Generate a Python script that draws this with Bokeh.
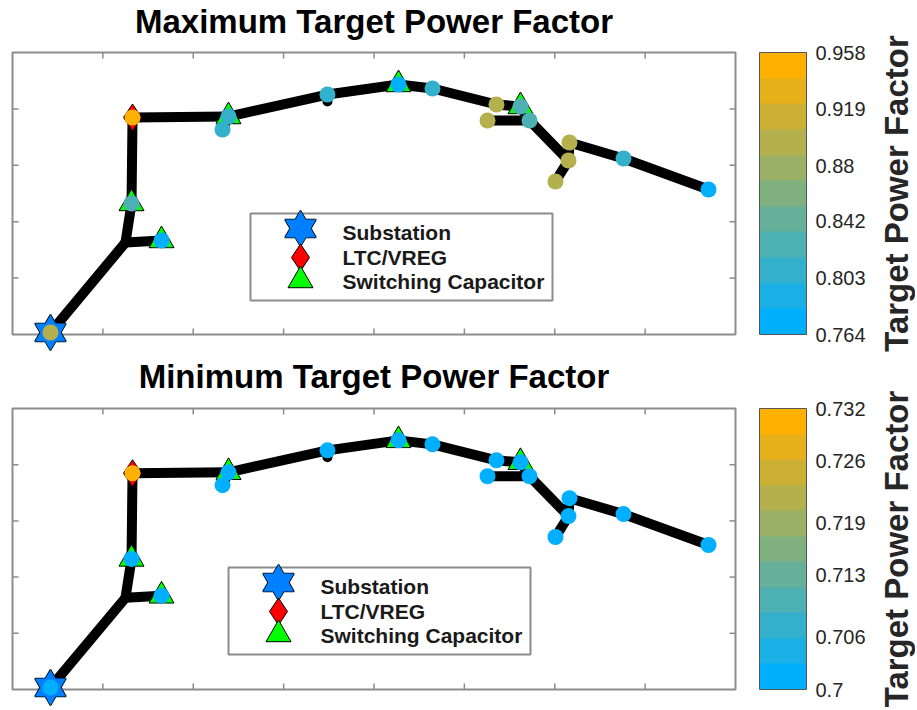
import math
from bokeh.plotting import figure
from bokeh.models import (ColumnDataSource, LinearColorMapper, ColorBar, FixedTicker,
                          Label, Range1d)
from bokeh.layouts import column
from bokeh.embed import file_html
from bokeh.resources import INLINE
from bokeh.core.properties import value

# ---------------- data ----------------
# feeder bus layout (axis units: x 0..8, y 0..5)
node_x = [0.420, 1.250, 1.649, 1.317, 1.328, 2.390, 2.324, 3.485, 3.485, 4.271,
          4.647, 5.355, 5.621, 5.721, 5.256, 6.152, 6.163, 6.008, 6.761, 7.701]
node_y = [0.035, 1.631, 1.667, 2.323, 3.848, 3.865, 3.635, 4.255, 4.131, 4.433,
          4.362, 4.078, 4.043, 3.794, 3.794, 3.085, 3.404, 2.713, 3.121, 2.571]
edge_from = [0, 1, 1, 3, 4, 5, 5, 7, 7, 9, 10, 11, 12, 13, 13, 15, 16, 18, 15]
edge_to   = [1, 2, 3, 4, 5, 6, 7, 8, 9, 10, 11, 12, 13, 14, 15, 16, 18, 19, 17]

substation_nodes = [0]
ltc_nodes = [4]
capacitor_nodes = [2, 3, 5, 9, 12]
pf_nodes = [0, 2, 3, 4, 5, 6, 7, 9, 10, 11, 12, 13, 14, 15, 16, 17, 18, 19]

pf_max = [0.890, 0.766, 0.826, 0.958, 0.805, 0.805, 0.805, 0.770, 0.805, 0.890,
          0.826, 0.826, 0.890, 0.890, 0.890, 0.890, 0.805, 0.766]
pf_min = [0.700, 0.700, 0.700, 0.732, 0.700, 0.700, 0.700, 0.700, 0.700, 0.700,
          0.700, 0.700, 0.700, 0.700, 0.700, 0.700, 0.700, 0.700]

cbar_max_ticks = [0.764, 0.803, 0.842, 0.880, 0.919, 0.958]
cbar_max_labels = ["0.764", "0.803", "0.842", "0.88", "0.919", "0.958"]
cbar_min_ticks = [0.700, 0.706, 0.713, 0.719, 0.726, 0.732]
cbar_min_labels = ["0.7", "0.706", "0.713", "0.719", "0.726", "0.732"]

titles = ["Maximum Target Power Factor", "Minimum Target Power Factor"]
legend_labels = ["Substation", "LTC/VREG", "Switching Capacitor"]
cbar_title = "Target Power Factor"

palette = ["#00b0ff", "#1ab0e6", "#33b0cc", "#4db0b3", "#66b099", "#80b080",
           "#99b066", "#b3b04d", "#ccb033", "#e6b01a", "#ffb000"]

# ---------------- layout (canvas pixels) ----------------
FIG_W = 915
BOX_L, BOX_R = 12, 735
CB_LEFT, CB_W = 759, 47
CB_TITLE_CX = 896
LEG_W, LEG_H = 302, 87
LEG_MARK_DX, LEG_MARK_DY = 50, [15, 44, 67]
LEG_TEXT_DX, LEG_TEXT_DY = 92, [19, 44, 68]
FONT = "Liberation Sans"

PANELS = [
    dict(fig_h=356, box_top=52, box_bot=334, leg=(250, 213), title_cy=21,
         pf=pf_max, ticks=cbar_max_ticks, labels=cbar_max_labels, title=titles[0]),
    dict(fig_h=352, box_top=52, box_bot=333, leg=(228, 211), title_cy=20,
         pf=pf_min, ticks=cbar_min_ticks, labels=cbar_min_labels, title=titles[1]),
]

SUB_COLOR, LTC_COLOR, CAP_COLOR = "#0080ff", "#ff0000", "#00ff00"
STAR_SIZE, DIAMOND_SIZE, TRI_SIZE, DOT_SIZE = 31, 27, 25, 16


def draw_star(p, xs, ys):
    for m in ("triangle", "inverted_triangle"):
        p.scatter(xs, ys, marker=m, size=STAR_SIZE, fill_color=SUB_COLOR,
                  line_color="black", line_width=1.6)
    for m in ("triangle", "inverted_triangle"):
        p.scatter(xs, ys, marker=m, size=STAR_SIZE, fill_color=SUB_COLOR,
                  line_color=None)


def make_panel(cfg):
    fig_h, bt, bb = cfg["fig_h"], cfg["box_top"], cfg["box_bot"]
    sx = (BOX_R - BOX_L) / 8.0
    sy = (bb - bt) / 5.0
    px2x = lambda px: (px - BOX_L) / sx
    px2y = lambda py: 5.0 - (py - bt) / sy

    p = figure(width=FIG_W, height=fig_h, title=None,
               x_range=Range1d(px2x(0), px2x(FIG_W)),
               y_range=Range1d(px2y(fig_h), px2y(0)),
               output_backend="svg", toolbar_location=None, min_border=0,
               x_axis_location=None, y_axis_location=None,
               outline_line_color=None)
    p.grid.grid_line_color = None

    # axes box with inward ticks
    p.quad(left=[0], right=[8], bottom=[0], top=[5], fill_color=None,
           line_color="#8c8c8c", line_width=2)
    tl_y, tl_x = 6 / sy, 6 / sx
    xt = [1, 2, 3, 4, 5, 6, 7]
    yt = [1, 2, 3, 4]
    p.segment(x0=xt + xt, y0=[0] * 7 + [5] * 7, x1=xt + xt,
              y1=[tl_y] * 7 + [5 - tl_y] * 7, line_color="#8c8c8c", line_width=1.5)
    p.segment(x0=[0] * 4 + [8] * 4, y0=yt + yt, x1=[tl_x] * 4 + [8 - tl_x] * 4,
              y1=yt + yt, line_color="#8c8c8c", line_width=1.5)

    # feeder lines
    p.segment(x0=[node_x[i] for i in edge_from], y0=[node_y[i] for i in edge_from],
              x1=[node_x[i] for i in edge_to], y1=[node_y[i] for i in edge_to],
              line_color="black", line_width=10, line_cap="round")

    # device markers
    p.scatter([node_x[i] for i in capacitor_nodes], [node_y[i] for i in capacitor_nodes],
              marker="triangle", size=TRI_SIZE, fill_color=CAP_COLOR,
              line_color="black", line_width=1)
    p.scatter([node_x[i] for i in ltc_nodes], [node_y[i] for i in ltc_nodes],
              marker="diamond", size=DIAMOND_SIZE, fill_color=LTC_COLOR,
              line_color="black", line_width=1)
    draw_star(p, [node_x[i] for i in substation_nodes], [node_y[i] for i in substation_nodes])

    # power-factor dots
    mapper = LinearColorMapper(palette=palette, low=cfg["ticks"][0], high=cfg["ticks"][-1])
    src = ColumnDataSource(dict(x=[node_x[i] for i in pf_nodes],
                                y=[node_y[i] for i in pf_nodes], pf=cfg["pf"]))
    p.scatter("x", "y", source=src, marker="circle", size=DOT_SIZE,
              fill_color={"field": "pf", "transform": mapper}, line_color=None)

    # legend (manual, MATLAB style)
    lx, ly = cfg["leg"]
    p.quad(left=[px2x(lx)], right=[px2x(lx + LEG_W)], top=[px2y(ly)],
           bottom=[px2y(ly + LEG_H)], fill_color="white", line_color="#8c8c8c",
           line_width=2)
    mx = px2x(lx + LEG_MARK_DX)
    draw_star(p, [mx], [px2y(ly + LEG_MARK_DY[0])])
    p.scatter([mx], [px2y(ly + LEG_MARK_DY[1])], marker="diamond", size=DIAMOND_SIZE,
              fill_color=LTC_COLOR, line_color="black", line_width=1)
    p.scatter([mx], [px2y(ly + LEG_MARK_DY[2])], marker="triangle", size=TRI_SIZE,
              fill_color=CAP_COLOR, line_color="black", line_width=1)
    p.text(x=[px2x(lx + LEG_TEXT_DX)] * 3, y=[px2y(ly + d) for d in LEG_TEXT_DY],
           text=legend_labels, text_font=value(FONT), text_font_style="bold",
           text_font_size="21px", text_baseline="middle", text_align="left",
           text_color="#1a1a1a")

    # title
    p.add_layout(Label(x=4, y=px2y(cfg["title_cy"]), text=cfg["title"],
                       text_align="center", text_baseline="middle",
                       text_font=FONT, text_font_style="bold",
                       text_font_size="33px", text_color="black"))

    # colorbar
    cb = ColorBar(color_mapper=mapper, ticker=FixedTicker(ticks=cfg["ticks"]),
                  major_label_overrides={t: l for t, l in zip(cfg["ticks"], cfg["labels"])},
                  width=CB_W, height=bb - bt, location=(CB_LEFT, fig_h - bb),
                  padding=0, margin=0, label_standoff=9,
                  major_label_text_font=FONT, major_label_text_font_size="20px",
                  major_label_text_color="#262626",
                  bar_line_color="#555555", bar_line_width=1,
                  major_tick_line_color=None, minor_tick_line_color=None,
                  background_fill_color=None, border_line_color=None)
    p.add_layout(cb)

    p.add_layout(Label(x=px2x(CB_TITLE_CX), y=2.5, text=cbar_title, angle=math.pi / 2,
                       text_align="center", text_baseline="middle",
                       text_font=FONT, text_font_style="bold",
                       text_font_size="33px", text_color="#262626"))
    return p


plots = [make_panel(c) for c in PANELS]
layout = column(*plots, spacing=0)
open("out.html", "w").write(file_html(layout, INLINE))
